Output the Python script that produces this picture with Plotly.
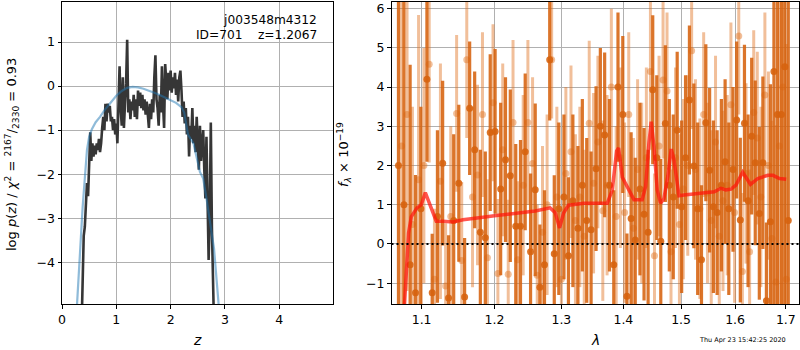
import plotly.graph_objects as go

# ---------------- left panel: redshift PDF ----------------
z_grid = [0.36, 0.38, 0.40, 0.42, 0.44, 0.46, 0.48, 0.50, 0.52, 0.54, 0.56, 0.58, 0.60, 0.62, 0.64,
          0.66, 0.68, 0.70, 0.72, 0.74, 0.76, 0.78, 0.80, 0.82, 0.84, 0.86, 0.88, 0.90, 0.92, 0.94,
          0.96, 0.98, 1.00, 1.02, 1.04, 1.06, 1.08, 1.10, 1.12, 1.14, 1.16, 1.18, 1.20, 1.22, 1.24,
          1.26, 1.28, 1.30, 1.32, 1.34, 1.36, 1.38, 1.40, 1.42, 1.44, 1.46, 1.48, 1.50, 1.52, 1.54,
          1.56, 1.58, 1.60, 1.62, 1.64, 1.66, 1.68, 1.70, 1.72, 1.74, 1.76, 1.78, 1.80, 1.82, 1.84,
          1.86, 1.88, 1.90, 1.92, 1.94, 1.96, 1.98, 2.00, 2.02, 2.04, 2.06, 2.08, 2.10, 2.12, 2.14,
          2.16, 2.18, 2.20, 2.22, 2.24, 2.26, 2.28, 2.30, 2.32, 2.34, 2.36, 2.38, 2.40, 2.42, 2.44,
          2.46, 2.48, 2.50, 2.52, 2.54, 2.56, 2.58, 2.60, 2.62, 2.64, 2.66, 2.68, 2.70, 2.72, 2.74,
          2.76, 2.78, 2.80]
log_pz = [-5.5, -4.2, -3.4, -3.2, -2.7, -2.2, -2.5, -1.6, -1.05, -1.7, -1.3, -1.6, -1.35, -1.55, -1.3,
          -1.45, -1.2, -1.5, -1.3, -0.95, -0.7, -1.0, -0.4, -0.8, -0.4, -0.6, -0.45, -0.8, -0.7, -1.0,
          -0.75, -1.1, -0.85, -1.3, -0.6, 0.45, -0.5, -0.9, 0.2, -0.95, -0.4, 0.05, 1.05, -0.6, -0.3,
          -0.75, -0.35, -0.55, -0.2, -0.7, -0.3, -0.75, -0.1, -0.45, -0.15, -0.5, -0.2, -0.55, -0.3, -0.65,
          -0.35, -0.8, -0.95, -0.4, -0.75, -0.3, -0.6, 0.2, 0.7, -0.3, -0.5, -0.9, -0.2, -0.6, 0.45,
          -0.4, -0.95, 0.5, 0.0, -0.3, 0.3, -0.1, 0.35, -0.15, 0.2, -0.05, 0.3, -0.2, 0.15, -0.35,
          0.2, 0.35, -0.1, -0.7, -0.35, -0.85, -0.5, -1.1, -0.7, -1.6, -0.9, -1.2, -0.5, -1.3, -0.9,
          -1.5, -0.7, -1.6, -1.9, -0.9, -1.7, -1.3, -1.0, -1.9, -2.55, -1.15, -2.2, -3.95, -3.0, -0.83,
          -3.2, -4.2, -5.5]

chi2_z = [0.27, 0.33, 0.38, 0.42, 0.46, 0.50, 0.55, 0.62, 0.70, 0.80, 0.90, 1.00, 1.10, 1.20, 1.30,
          1.40, 1.50, 1.60, 1.70, 1.80, 1.90, 2.00, 2.10, 2.20, 2.25, 2.32, 2.42, 2.54, 2.60, 2.66,
          2.70, 2.80, 2.90]
chi2_logp = [-5.1, -3.7, -2.75, -2.1, -1.45, -1.15, -0.98, -0.82, -0.7, -0.52, -0.36, -0.22, -0.11, -0.04, -0.02,
             -0.03, -0.06, -0.10, -0.15, -0.20, -0.26, -0.32, -0.38, -0.48, -0.6, -1.1, -1.3, -1.95, -2.1, -2.55,
             -2.85, -3.7, -5.2]

# ---------------- right panel: 1D spectrum ----------------
wave_a = [1.070, 1.077, 1.085, 1.092, 1.099, 1.107, 1.114, 1.121, 1.128, 1.136,
          1.143, 1.150, 1.158, 1.165, 1.172, 1.180, 1.187, 1.194, 1.201, 1.209,
          1.216, 1.223, 1.231, 1.238, 1.245, 1.253, 1.260, 1.267, 1.274, 1.282,
          1.289, 1.296, 1.304, 1.311, 1.318, 1.326, 1.333, 1.340, 1.347, 1.355,
          1.362, 1.369, 1.377, 1.384, 1.391, 1.399, 1.406, 1.413, 1.420, 1.428,
          1.435, 1.442, 1.450, 1.457, 1.464, 1.472, 1.479, 1.486, 1.493, 1.501,
          1.508, 1.515, 1.523, 1.530, 1.537, 1.545, 1.552, 1.559, 1.566, 1.574,
          1.581, 1.588, 1.596, 1.603, 1.610, 1.618, 1.625, 1.632, 1.639, 1.647,
          1.654, 1.661, 1.669, 1.676, 1.683, 1.691, 1.698, 1.705]
flux_a = [2.0, 1.0, -0.53, -1.24, 0.9, 4.2, -1.24, 0.7, 2.06, -1.38,
          0.6, 1.55, -1.35, 3.46, 2.4, 0.3, 0.16, 2.84, 2.87, 1.4,
          2.15, 1.74, 0.45, 0.45, 2.35, -0.2, 1.38, -1.1, -0.53, 4.7,
          -0.25, 0.9, 1.2, -0.3, 1.1, 0.4, 1.5, 0.6, 0.36, 1.92,
          3.0, 2.78, 1.5, -0.53, 4.0, 3.3, -1.33, 0.65, 0.1, 1.4,
          0.76, 0.3, 3.93, 2.2, 0.07, 3.07, 1.5, 1.2, 2.9, 0.95,
          2.2, 3.67, 1.99, 0.9, -0.4, 3.09, 1.88, 0.95, 0.8, 1.5,
          2.1, 0.9, 1.9, 3.16, 0.61, 3.08, 1.1, 2.75, 2.07, 0.78,
          2.07, -1.45, 0.57, 4.4, 3.3, 3.3, 4.52, 0.6]
err_a = [9.0, 9.0, 5.1, 3.0, 2.6, 2.1, 1.5, 2.2, 2.1, 1.6,
         2.2, 2.0, 1.5, 1.7, 2.0, 2.1, 2.2, 2.0, 2.1, 2.2,
         2.1, 2.2, 2.1, 2.2, 2.0, 2.0, 2.2, 1.6, 1.9, 1.55,
         2.0, 2.2, 2.1, 2.0, 2.2, 2.1, 2.2, 2.1, 2.0, 2.1,
         2.0, 2.1, 2.2, 1.9, 1.9, 2.0, 1.6, 2.2, 2.1, 2.2,
         2.2, 2.1, 1.9, 2.1, 2.1, 2.0, 2.2, 2.1, 2.0, 2.2,
         2.1, 1.9, 2.1, 2.2, 1.9, 2.0, 2.1, 2.2, 2.1, 2.2,
         2.1, 2.2, 2.1, 2.0, 2.1, 2.0, 2.2, 2.0, 2.1, 2.2,
         2.2, 2.0, 3.5, 6.0, 7.0, 7.0, 7.0, 7.0]

wave_b = [1.074, 1.081, 1.088, 1.096, 1.103, 1.110, 1.117, 1.125, 1.132, 1.139,
          1.147, 1.154, 1.161, 1.169, 1.176, 1.183, 1.190, 1.198, 1.205, 1.212,
          1.220, 1.227, 1.234, 1.242, 1.249, 1.256, 1.263, 1.271, 1.278, 1.285,
          1.293, 1.300, 1.307, 1.315, 1.322, 1.329, 1.336, 1.344, 1.351, 1.358,
          1.366, 1.373, 1.380, 1.388, 1.395, 1.402, 1.409, 1.417, 1.424, 1.431,
          1.439, 1.446, 1.453, 1.461, 1.468, 1.475, 1.482, 1.490, 1.497, 1.504,
          1.512, 1.519, 1.526, 1.534, 1.541, 1.548, 1.555, 1.563, 1.570, 1.577,
          1.585, 1.592, 1.599, 1.607, 1.614, 1.621, 1.628, 1.636, 1.643, 1.650,
          1.658, 1.665, 1.672, 1.680, 1.687, 1.694, 1.701]
flux_b = [2.5, 3.3, 0.5, 1.64, 2.0, 4.58, -0.9, 1.6, -1.07, 0.7,
          3.33, -0.42, 4.7, 1.2, 1.76, 3.3, -0.35, 3.6, -0.75, 2.4,
          -0.77, 3.1, -0.4, 1.5, 3.1, 2.05, -0.8, 0.3, 1.0, 4.7,
          1.2, -0.9, 1.8, 2.35, 0.6, 1.2, 0.2, 3.08, 1.55, 2.6,
          0.85, 1.5, 4.0, 0.7, 2.2, 0.8, 3.3, 0.4, 1.9, 1.3,
          2.2, 4.4, -0.3, 2.5, 4.18, 3.9, -0.2, 2.2, 0.5, 1.4,
          2.0, 4.93, 1.9, 0.9, 3.3, 1.3, 0.6, 2.6, 0.2, 1.1,
          1.5, 3.55, 0.8, 5.3, -0.7, 1.8, -0.2, 3.35, 2.7, 1.2,
          3.8, 2.0, 0.14, -0.97, 2.5, 4.0, -0.9]
err_b = [8.0, 4.5, 3.0, 4.2, 3.0, 2.5, 1.8, 3.0, 1.6, 2.3,
         2.0, 2.0, 2.0, 2.3, 2.3, 2.1, 2.0, 2.0, 1.9, 2.2,
         1.9, 2.1, 2.0, 2.3, 2.1, 2.2, 1.8, 2.2, 2.3, 1.5,
         2.3, 1.8, 2.2, 2.2, 2.2, 2.3, 2.2, 2.1, 2.3, 2.2,
         2.3, 2.3, 2.0, 2.3, 2.3, 2.3, 2.1, 2.3, 2.3, 2.3,
         2.3, 2.0, 2.1, 2.3, 2.0, 2.0, 2.1, 2.3, 2.3, 2.3,
         2.3, 2.0, 2.3, 2.3, 2.1, 2.3, 2.3, 2.2, 2.2, 2.3,
         2.3, 2.1, 2.3, 2.0, 2.0, 2.3, 2.1, 2.1, 2.2, 2.3,
         2.1, 2.4, 3.0, 4.0, 6.0, 7.0, 6.0]

model_wave = [1.0700, 1.0778, 1.0830, 1.0866, 1.0939, 1.0996, 1.1049, 1.1105, 1.1194, 1.1284, 1.1420, 1.1558,
              1.1697, 1.1838, 1.2000, 1.2200, 1.2400, 1.2600, 1.2826, 1.2904, 1.2972, 1.3034, 1.3113, 1.3352,
              1.3733, 1.3815, 1.3887, 1.3920, 1.3982, 1.4066, 1.4178, 1.4318, 1.4377, 1.4433, 1.4473, 1.4521,
              1.4578, 1.4636, 1.4694, 1.4764, 1.4824, 1.4870, 1.4962, 1.5050, 1.5296, 1.5606, 1.5732, 1.5824,
              1.5922, 1.6017, 1.6082, 1.6146, 1.6297, 1.6441, 1.6639, 1.6740, 1.6873, 1.7008]
model_flux = [-3.0, -1.52, 0.28, 0.70, 0.92, 1.00, 1.31, 1.04, 0.58, 0.58, 0.56, 0.62,
              0.64, 0.68, 0.72, 0.76, 0.80, 0.84, 0.92, 0.80, 0.41, 0.79, 0.99, 1.04,
              1.04, 1.37, 2.37, 2.45, 1.70, 1.47, 1.13, 1.13, 1.47, 2.56, 3.12, 2.48,
              1.38, 1.04, 1.15, 1.73, 2.42, 2.17, 1.23, 1.25, 1.28, 1.33, 1.42, 1.38,
              1.40, 1.50, 1.67, 1.83, 1.52, 1.67, 1.75, 1.75, 1.67, 1.65]

left_xticks = [0, 1, 2, 3, 4]
left_yticks = [-4, -3, -2, -1, 0, 1]
right_xticks = [1.1, 1.2, 1.3, 1.4, 1.5, 1.6, 1.7]
right_yticks = [-1, 0, 1, 2, 3, 4, 5, 6]

FONT = "DejaVu Sans"
DARK = "rgba(214,98,14,0.88)"
LIGHT = "rgba(224,112,32,0.45)"

fig = go.Figure()

fig.add_trace(go.Scatter(x=z_grid, y=log_pz, mode="lines", xaxis="x", yaxis="y",
                         line=dict(color="#363636", width=2.6), showlegend=False))
fig.add_trace(go.Scatter(x=chi2_z, y=chi2_logp, mode="lines", xaxis="x", yaxis="y",
                         line=dict(color="rgba(31,119,180,0.5)", width=2.2), showlegend=False))

fig.add_trace(go.Scatter(x=wave_b, y=flux_b, mode="markers", xaxis="x2", yaxis="y2",
                         marker=dict(color=LIGHT, size=7),
                         error_y=dict(type="data", array=err_b, color=LIGHT, thickness=3, width=0),
                         showlegend=False))
fig.add_trace(go.Scatter(x=wave_a, y=flux_a, mode="markers", xaxis="x2", yaxis="y2",
                         marker=dict(color=DARK, size=7),
                         error_y=dict(type="data", array=err_a, color=DARK, thickness=3.2, width=0),
                         showlegend=False))
fig.add_trace(go.Scatter(x=model_wave, y=model_flux, mode="lines", xaxis="x2", yaxis="y2",
                         line=dict(color="rgba(255,20,10,0.72)", width=3.5), showlegend=False))

ax_common = dict(showgrid=True, gridcolor="#b0b0b0", gridwidth=1, zeroline=False,
                 showline=True, linecolor="black", linewidth=1, mirror=True,
                 ticks="outside", ticklen=3.5, tickcolor="black", tickwidth=1, automargin=False,
                 tickfont=dict(family=FONT, size=12.5, color="black"))

H = 350.0
W = 800.0
fig.update_layout(
    width=800, height=350, margin=dict(l=0, r=0, t=0, b=0, autoexpand=False),
    paper_bgcolor="white", plot_bgcolor="white",
    xaxis=dict(domain=[62 / W, 333 / W], range=[0, 4.99], tickvals=left_xticks, anchor="y", **ax_common),
    yaxis=dict(domain=[1 - 304 / H, 1 - 2 / H], range=[-4.95, 1.91], tickvals=left_yticks, anchor="x",
               **ax_common),
    xaxis2=dict(domain=[391.5 / W, 799 / W], type="log", range=[0.02576, 0.23729],
                tickvals=right_xticks, ticktext=[str(v) for v in right_xticks], anchor="y2", **ax_common),
    yaxis2=dict(domain=[1 - 304 / H, 1 - 2 / H], range=[-1.53, 6.17], tickvals=right_yticks, anchor="x2",
                **ax_common),
    shapes=[dict(type="line", xref="x2 domain", x0=0, x1=1, yref="y2", y0=0, y1=0,
                 line=dict(color="black", width=2, dash="2px,3px"), layer="above")],
)

ann = []
ann.append(dict(x=319 / W, y=1 - 20 / H, xref="paper", yref="paper", text="j003548m4312",
                showarrow=False, xanchor="right", yanchor="middle",
                font=dict(family=FONT, size=12.2, color="black")))
ann.append(dict(x=319 / W, y=1 - 35 / H, xref="paper", yref="paper",
                text="ID=701\u00a0\u00a0\u00a0\u00a0z=1.2067",
                showarrow=False, xanchor="right", yanchor="middle",
                font=dict(family=FONT, size=12.2, color="black")))
ann.append(dict(x=197 / W, y=1 - 340 / H, xref="paper", yref="paper", text="<i>z</i>",
                showarrow=False, xanchor="center", yanchor="middle",
                font=dict(family=FONT, size=14, color="black")))
ann.append(dict(x=595 / W, y=1 - 340 / H, xref="paper", yref="paper", text="<i>λ</i>",
                showarrow=False, xanchor="center", yanchor="middle",
                font=dict(family=FONT, size=14, color="black")))
ann.append(dict(x=12 / W, y=1 - 155 / H, xref="paper", yref="paper", textangle=-90,
                text="log <i>p</i>(<i>z</i>) / <i>χ</i><sup>2</sup> = <sup>2167</sup>/<sub>2330</sub> = 0.93",
                showarrow=False, xanchor="center", yanchor="middle",
                font=dict(family=FONT, size=13, color="black")))
ann.append(dict(x=344 / W, y=1 - 155 / H, xref="paper", yref="paper", textangle=-90,
                text="<i>f</i><sub><i>λ</i></sub> × 10<sup>−19</sup>",
                showarrow=False, xanchor="center", yanchor="middle",
                font=dict(family=FONT, size=13, color="black")))
ann.append(dict(x=788 / W, y=1 - 340 / H, xref="paper", yref="paper", text="Thu Apr 23 15:42:25 2020",
                showarrow=False, xanchor="right", yanchor="middle",
                font=dict(family=FONT, size=6.5, color="black")))
fig.update_layout(annotations=ann)

fig.write_html("out.html", config={"displayModeBar": False},
               post_script="document.body.style.margin='0';document.body.style.overflow='hidden';")
